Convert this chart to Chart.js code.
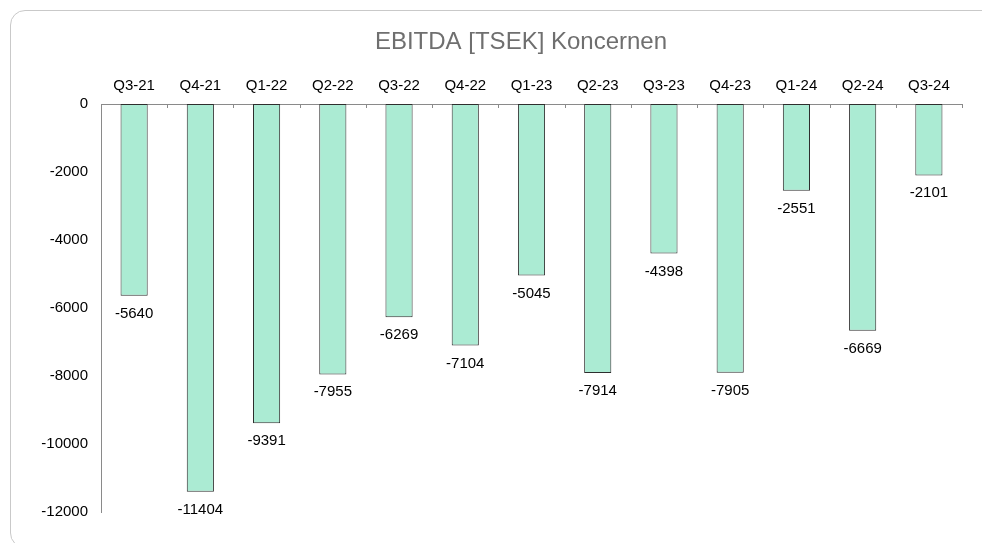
<!DOCTYPE html>
<html>
<head>
<meta charset="utf-8">
<script src="https://cdn.jsdelivr.net/npm/chart.js@4"></script>
<style>
  html, body { margin: 0; padding: 0; background: #fff; }
  body { width: 982px; height: 543px; position: relative; overflow: hidden; }
  #card { position: absolute; left: 10px; top: 10px; width: 1000px; height: 538px;
          border: 1px solid #c9c9c9; border-radius: 15px; box-sizing: border-box; }
  #wrap { position: absolute; left: 0; top: 0; width: 982px; height: 543px; }
</style>
</head>
<body>
<div id="card"></div>
<div id="wrap"><canvas id="c" width="982" height="543"></canvas></div>
<script>
const chartTitle = 'EBITDA [TSEK] Koncernen';
const categories = ['Q3-21','Q4-21','Q1-22','Q2-22','Q3-22','Q4-22','Q1-23','Q2-23','Q3-23','Q4-23','Q1-24','Q2-24','Q3-24'];
const ebitda = [-5640, -11404, -9391, -7955, -6269, -7104, -5045, -7914, -4398, -7905, -2551, -6669, -2101];
const yTicks = [0, -2000, -4000, -6000, -8000, -10000, -12000];

const FONT = 'Arial, "Liberation Sans", Helvetica, sans-serif';

const extras = {
  id: 'extras',
  afterDatasetsDraw(chart) {
    const ctx = chart.ctx;
    const meta = chart.getDatasetMeta(0);
    ctx.save();
    ctx.fillStyle = '#000';
    ctx.font = '15px ' + FONT;
    ctx.textAlign = 'center';
    ctx.textBaseline = 'alphabetic';
    meta.data.forEach((bar, i) => {
      ctx.fillText(String(ebitda[i]), bar.x, bar.y + 22);
    });
    // category boundary tick marks pointing into the plot
    const xs = chart.scales.x;
    const top = chart.chartArea.top;
    ctx.strokeStyle = '#8a8a8a';
    ctx.lineWidth = 1;
    for (let i = 0; i <= categories.length; i++) {
      const px = Math.round(xs.getPixelForValue(i - 0.5)) + 0.5;
      ctx.beginPath();
      ctx.moveTo(px, top);
      ctx.lineTo(px, top + 4);
      ctx.stroke();
    }
    // title
    ctx.fillStyle = '#6f6f6f';
    ctx.font = '24px ' + FONT;
    ctx.textAlign = 'center';
    ctx.fillText(chartTitle, 521, 49);
    ctx.restore();
  }
};

new Chart(document.getElementById('c'), {
  type: 'bar',
  data: {
    labels: categories,
    datasets: [{
      data: ebitda,
      backgroundColor: '#abebd3',
      borderColor: '#2e2e2e',
      borderWidth: 1,
      borderSkipped: false,
      barPercentage: 0.41,
      categoryPercentage: 1.0
    }]
  },
  options: {
    responsive: false,
    animation: false,
    layout: { padding: { left: 0, right: 20, top: 64, bottom: 31 } },
    plugins: { legend: { display: false }, title: { display: false }, tooltip: { enabled: false } },
    scales: {
      x: {
        position: 'top',
        grid: { display: false, drawTicks: false },
        border: { display: true, color: '#8a8a8a', width: 1 },
        ticks: { color: '#000', font: { size: 15, family: FONT }, padding: 9, maxRotation: 0 },
        afterFit(s) { s.height = 40; }
      },
      y: {
        min: -12000, max: 0,
        afterBuildTicks(s) { s.ticks = yTicks.map(v => ({ value: v })); },
        grid: { display: false, drawTicks: false },
        border: { display: true, color: '#8a8a8a', width: 1 },
        ticks: { color: '#000', font: { size: 15, family: FONT }, padding: 13,
                 callback: (v) => String(v) },
        afterFit(s) { s.width = 101; }
      }
    }
  },
  plugins: [extras]
});
</script>
</body>
</html>
